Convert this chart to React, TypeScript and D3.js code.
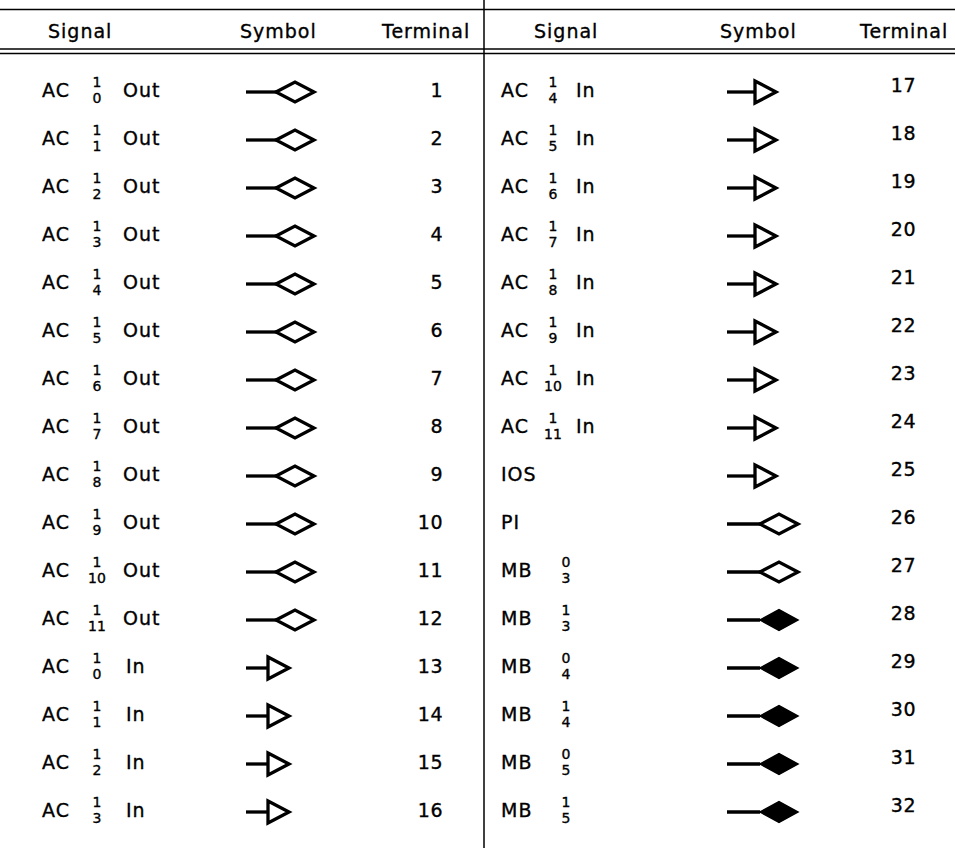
import React from 'react';
import * as d3 from 'd3';

// Terminal table, 32 rows split over two columns of 16
const prefixes = [
  'AC', 'AC', 'AC', 'AC', 'AC', 'AC', 'AC', 'AC', 'AC', 'AC', 'AC', 'AC', 'AC', 'AC', 'AC', 'AC',
  'AC', 'AC', 'AC', 'AC', 'AC', 'AC', 'AC', 'AC', 'IOS', 'PI', 'MB', 'MB', 'MB', 'MB', 'MB', 'MB',
];
const fracTop = [
  '1', '1', '1', '1', '1', '1', '1', '1', '1', '1', '1', '1', '1', '1', '1', '1',
  '1', '1', '1', '1', '1', '1', '1', '1', '', '', '0', '1', '0', '1', '0', '1',
];
const fracBottom = [
  '0', '1', '2', '3', '4', '5', '6', '7', '8', '9', '10', '11', '0', '1', '2', '3',
  '4', '5', '6', '7', '8', '9', '10', '11', '', '', '3', '3', '4', '4', '5', '5',
];
const suffixes = [
  'Out', 'Out', 'Out', 'Out', 'Out', 'Out', 'Out', 'Out', 'Out', 'Out', 'Out', 'Out', 'In', 'In', 'In', 'In',
  'In', 'In', 'In', 'In', 'In', 'In', 'In', 'In', '', '', '', '', '', '', '', '',
];
const symbols = [
  'out', 'out', 'out', 'out', 'out', 'out', 'out', 'out', 'out', 'out', 'out', 'out', 'in', 'in', 'in', 'in',
  'in', 'in', 'in', 'in', 'in', 'in', 'in', 'in', 'in', 'out', 'out', 'fill', 'fill', 'fill', 'fill', 'fill',
];
const terminals = [
  1, 2, 3, 4, 5, 6, 7, 8, 9, 10, 11, 12, 13, 14, 15, 16,
  17, 18, 19, 20, 21, 22, 23, 24, 25, 26, 27, 28, 29, 30, 31, 32,
];
const headers = ['Signal', 'Symbol', 'Terminal'];

const W = 955;
const H = 849;
const FONT = '"DejaVu Sans", Verdana, sans-serif';

// per-column layout
const cols = [
  { prefixX: 42, fracX: 97, suffixX: 123, inX: 126, symX: 246, termX: 443, termDy: 0,
    hdr: [48, 240, 382], arrowLine: 22, diaLine: 30 },
  { prefixX: 501, fracX: 553, suffixX: 576, inX: 576, symX: 727, termX: 916, termDy: -5,
    hdr: [534, 720, 860], arrowLine: 28, diaLine: 33 },
];
const mbFracX = 566;

const rowY = d3.scaleLinear().domain([0, 15]).range([90, 810]);

function Symbol({ kind, x, y, arrowLine, diaLine }: any) {
  if (kind === 'in') {
    const tx = x + arrowLine;
    const tri = d3.line()([[tx, y - 11], [tx + 21, y], [tx, y + 11]]) + 'Z';
    return (
      <g stroke="#000" strokeWidth={3.3} fill="none">
        <line x1={x} y1={y} x2={tx} y2={y} />
        <path d={tri} fill="#fff" />
      </g>
    );
  }
  const dx = x + diaLine;
  const w = 38;
  const h = kind === 'fill' ? 10.5 : 10;
  const dia = d3.line()([[dx, y], [dx + w / 2, y - h], [dx + w, y], [dx + w / 2, y + h]]) + 'Z';
  return (
    <g stroke="#000" strokeWidth={3.3} fill="none">
      <line x1={x} y1={y} x2={dx} y2={y} />
      <path d={dia} fill={kind === 'fill' ? '#000' : '#fff'} strokeWidth={kind === 'fill' ? 1.5 : 3.3} />
    </g>
  );
}

export default function App() {
  return (
    <svg width={W} height={H} style={{ position: 'absolute', left: 0, top: 0, background: '#fff' }}
      fontFamily={FONT}>
      <rect width={W} height={H} fill="#fff" />
      {/* rules */}
      <line x1={0} x2={W} y1={9.5} y2={9.5} stroke="#000" strokeWidth={1.5} />
      <line x1={0} x2={W} y1={49} y2={49} stroke="#000" strokeWidth={1.3} />
      <line x1={0} x2={W} y1={53.5} y2={53.5} stroke="#000" strokeWidth={1.3} />
      <line x1={484} x2={484} y1={0} y2={848} stroke="#000" strokeWidth={1.5} />

      <g fill="#000" stroke="#000" strokeWidth={0.35}>
        {cols.map((c, ci) => (
          <g key={'h' + ci}>
            {headers.map((t, hi) => (
              <text key={t} x={c.hdr[hi]} y={38} fontSize={19} letterSpacing={1}>{t}</text>
            ))}
          </g>
        ))}

        {terminals.map((term, i) => {
          const ci = i < 16 ? 0 : 1;
          const c = cols[ci];
          const y = rowY(i % 16);
          const isMB = prefixes[i] === 'MB';
          const fx = isMB ? mbFracX : c.fracX;
          const sx = suffixes[i] === 'In' ? c.inX : c.suffixX;
          return (
            <g key={term}>
              <text x={c.prefixX} y={y + 7} fontSize={19} letterSpacing={1}>{prefixes[i]}</text>
              {fracTop[i] && (
                <text x={fx} y={y - 3} fontSize={14} textAnchor="middle">{fracTop[i]}</text>
              )}
              {fracBottom[i] && (
                <text x={fx} y={y + 13} fontSize={14} textAnchor="middle">{fracBottom[i]}</text>
              )}
              {suffixes[i] && (
                <text x={sx} y={y + 7} fontSize={19} letterSpacing={1}>{suffixes[i]}</text>
              )}
              <Symbol kind={symbols[i]} x={c.symX} y={y + 2} arrowLine={c.arrowLine} diaLine={c.diaLine} />
              <text x={c.termX} y={y + 7 + c.termDy} fontSize={19} letterSpacing={0.5} textAnchor="end">{term}</text>
            </g>
          );
        })}
      </g>
    </svg>
  );
}
